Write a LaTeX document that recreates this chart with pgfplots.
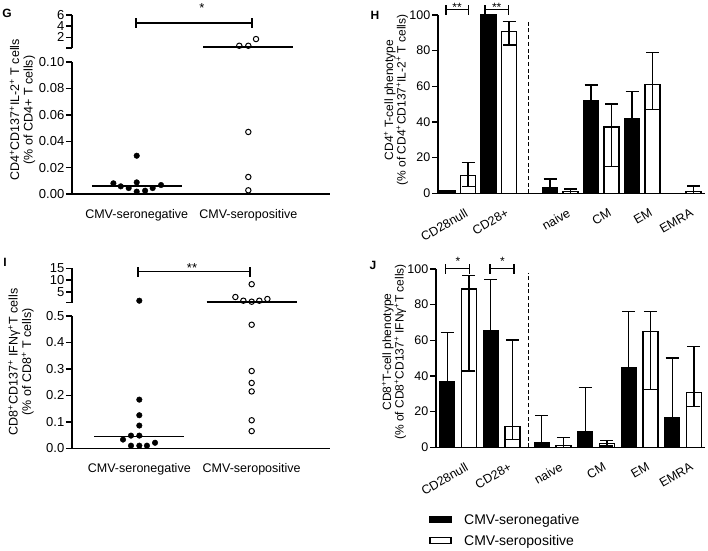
\documentclass[border=0pt]{standalone}
\usepackage{fontspec}
\setmainfont{Liberation Sans}
\usepackage{pgfplots}
\pgfplotsset{compat=1.18}
\pgfplotsset{
  panel/.style={scale only axis, anchor=south west, clip=false,
    axis line style={line width=1.4pt, black},
    tick style={black, line width=1.4pt},
    tick align=outside, major tick length=6pt,
    ticklabel style={font=\fontsize{13}{13}\selectfont},
    yticklabel style={inner sep=1.5pt},
  },
  negpts/.style={only marks, mark=*, mark size=2.8pt, black},
  pospts/.style={only marks, mark=o, mark size=2.7pt, mark options={line width=1pt}, black},
  medline/.style={line width=1.8pt, black},
  blackbar/.style={ybar, bar width=15pt, bar shift=0pt, fill=black, draw=black, line width=1.3pt,
    error bars/.cd, y dir=plus, y explicit,
    error bar style={line width=1.4pt, black, solid},
    error mark options={rotate=90, line width=1.4pt, mark size=6.5pt, black}},
  whitebar/.style={ybar, bar width=15pt, bar shift=0pt, fill=white, draw=black, line width=1.4pt,
    error bars/.cd, y dir=both, y explicit,
    error bar style={line width=1.4pt, black, solid},
    error mark options={rotate=90, line width=1.4pt, mark size=6.5pt, black}},
}
\begin{document}
\fontsize{12}{13}\selectfont
\begin{tikzpicture}
\useasboundingbox (0,0) rectangle (708pt,550pt);

% ================= Panel G =================
\begin{axis}[panel, at={(72pt,356pt)}, width=258pt, height=132pt,
  xmin=0.42, xmax=2.732, ymin=0, ymax=0.1,
  axis x line*=bottom, axis y line*=left,
  xtick={1,2}, xticklabels={CMV-seronegative,CMV-seropositive},
  xtick style={draw=none}, xticklabel style={yshift=-5pt, font=\fontsize{12.5}{13}\selectfont},
  ytick={0,0.02,0.04,0.06,0.08,0.1},
  yticklabels={0.00,0.02,0.04,0.06,0.08,0.10}]
\addplot[negpts] coordinates {(0.791,0.0081) (0.857,0.0058) (0.928,0.0045) (1,0.0088) (1,0.0018) (1.075,0.0025) (1.143,0.0045) (1.218,0.0068) (1,0.029)};
\addplot[pospts] coordinates {(2,0.047) (2,0.0129) (2,0.0028)};
\addplot[medline] coordinates {(0.597,0.0058) (1.403,0.0058)};
\end{axis}
\begin{axis}[panel, at={(72pt,502pt)}, width=258pt, height=33pt,
  xmin=0.42, xmax=2.732, ymin=0.1, ymax=6,
  axis y line*=left, axis x line=none, xtick=\empty,
  ytick={0.1,2,4,6}, yticklabels={,2,4,6}]
\addplot[pospts] coordinates {(1.919,0.5) (2,0.5) (2.069,1.7)};
\addplot[medline] coordinates {(1.597,0.22) (2.403,0.22)};
\end{axis}
\draw[line width=1.4pt] (136pt,522pt) -- (136pt,532pt) (136pt,527pt) -- (252pt,527pt) (252pt,522pt) -- (252pt,532pt);
\node[anchor=base, font=\fontsize{13}{13}\selectfont] at (202pt,537pt) {*};
\node[rotate=90, align=center, font=\fontsize{12.5}{13.5}\selectfont] at (22.5pt,440pt)
  {CD4\textsuperscript{+}CD137\textsuperscript{+}IL-2\textsuperscript{+} T cells\\(\% of CD4+ T cells)};
\node[font=\bfseries\fontsize{12}{12}\selectfont] at (7pt,537pt) {G};

% ================= Panel I =================
\begin{axis}[panel, at={(72pt,101.7pt)}, width=258pt, height=132.3pt,
  xmin=0.401, xmax=2.697, ymin=0, ymax=0.5,
  axis x line*=bottom, axis y line*=left,
  xtick={1,2}, xticklabels={CMV-seronegative,CMV-seropositive},
  xtick style={draw=none}, xticklabel style={yshift=-5pt, font=\fontsize{12.5}{13}\selectfont},
  ytick={0,0.1,0.2,0.3,0.4,0.5},
  yticklabels={0.0,0.1,0.2,0.3,0.4,0.5}]
\addplot[negpts] coordinates {(1,0.184) (1,0.125) (1,0.086) (0.926,0.048) (1,0.048) (0.855,0.033) (0.926,0.010) (1,0.010) (1.068,0.010) (1.140,0.021)};
\addplot[pospts] coordinates {(2,0.467) (2,0.292) (2,0.247) (2,0.215) (2,0.106) (2,0.065)};
\addplot[medline] coordinates {(0.6,0.045) (1.4,0.045)};
\end{axis}
\begin{axis}[panel, at={(72pt,247.3pt)}, width=258pt, height=34.4pt,
  xmin=0.401, xmax=2.697, ymin=0.5, ymax=15,
  axis y line*=left, axis x line=none, xtick=\empty,
  ytick={0.5,5,10,15}, yticklabels={,5,10,15}]
\addplot[negpts] coordinates {(1,1.34)};
\addplot[pospts] coordinates {(2,8.3) (1.855,2.9) (1.926,1.34) (2,0.92) (2.068,1.34) (2.140,2.06)};
\addplot[medline] coordinates {(1.6,0.69) (2.4,0.69)};
\end{axis}
\draw[line width=1.4pt] (138pt,273.3pt) -- (138pt,283.3pt) (138pt,278.3pt) -- (250pt,278.3pt) (250pt,273.3pt) -- (250pt,283.3pt);
\node[anchor=base, font=\fontsize{13}{13}\selectfont] at (192pt,277.3pt) {**};
\node[rotate=90, align=center, font=\fontsize{12.5}{13.5}\selectfont] at (21pt,188pt)
  {CD8\textsuperscript{+}CD137\textsuperscript{+} IFNγ\textsuperscript{+}T cells\\(\% of CD8\textsuperscript{+} T cells)};
\node[font=\bfseries\fontsize{12}{12}\selectfont] at (5pt,288pt) {I};

% ================= Panel H =================
\begin{axis}[panel, at={(438pt,356.7pt)}, width=267pt, height=178.3pt,
  xmin=-0.463, xmax=12.56, ymin=0, ymax=100,
  axis x line*=bottom, axis y line*=left,
  ticklabel style={font=\fontsize{12.5}{12.5}\selectfont},
  ytick={0,20,40,60,80,100}, yticklabels={0,20,40,60,80,100},
  xtick={0.5,2.5,5.5,7.5,9.5,11.5}, xticklabels={CD28null,CD28+,naive,CM,EM,EMRA},
  xtick style={draw=none},
  xticklabel style={xshift=8pt, yshift=-3pt, rotate=30, anchor=north east}]
\addplot[blackbar] coordinates {(0,1.3) +- (0,0.4) (2,100) +- (0,0) (5,3.3) +- (0,4.7) (7,52) +- (0,8.7) (9,41.7) +- (0,15.5)};
\addplot[whitebar] coordinates {(1,9.9) += (0,7.5) -= (0,6.2) (3,90.6) += (0,5.6) -= (0,7.4) (6,1.1) += (0,1.3) -= (0,1.1) (8,37.2) += (0,12.9) -= (0,22.3) (10,60.9) += (0,18.2) -= (0,14) (12,0.9) += (0,3.2) -= (0,0.9)};
\draw[line width=1.4pt, dash pattern=on 4pt off 2.7pt] (axis cs:3.94,0) -- (axis cs:3.94,97);
\end{axis}
\draw[line width=1.4pt] (446pt,535pt) -- (446pt,545pt) (446pt,540.7pt) -- (468.3pt,540.7pt) (468.3pt,535pt) -- (468.3pt,545pt);
\draw[line width=1.4pt] (485pt,535pt) -- (485pt,545pt) (485pt,540.7pt) -- (508.3pt,540.7pt) (508.3pt,535pt) -- (508.3pt,545pt);
\node[anchor=base, font=\fontsize{12}{12}\selectfont] at (457pt,538pt) {**};
\node[anchor=base, font=\fontsize{12}{12}\selectfont] at (496.7pt,538pt) {**};
\node[rotate=90, align=center, font=\fontsize{12}{12.5}\selectfont] at (396pt,450pt)
  {CD4\textsuperscript{+} T-cell phenotype\\(\% of CD4\textsuperscript{+}CD137\textsuperscript{+}IL-2\textsuperscript{+} T cells)};
\node[font=\bfseries\fontsize{12}{12}\selectfont] at (375pt,535pt) {H};

% ================= Panel J =================
\begin{axis}[panel, at={(436pt,102.7pt)}, width=269pt, height=178.3pt,
  xmin=-0.515, xmax=11.853, ymin=0, ymax=100,
  axis x line*=bottom, axis y line*=left,
  ticklabel style={font=\fontsize{12.5}{12.5}\selectfont},
  ytick={0,20,40,60,80,100}, yticklabels={0,20,40,60,80,100},
  xtick={0.5,2.5,4.845,6.845,8.845,10.845}, xticklabels={CD28null,CD28+,naive,CM,EM,EMRA},
  xtick style={draw=none},
  xticklabel style={xshift=8pt, yshift=-3pt, rotate=30, anchor=north east}]
\addplot[blackbar] coordinates {(0,36.8) +- (0,27.5) (2,65.4) +- (0,28.6) (4.345,2.8) +- (0,14.9) (6.345,8.6) +- (0,25) (8.345,44.7) +- (0,31.6) (10.345,16.6) +- (0,33.5)};
\addplot[whitebar] coordinates {(1,88.7) += (0,7.5) -= (0,45.9) (3,11.6) += (0,48.6) -= (0,7.1) (5.345,1.1) += (0,4.3) -= (0,1.1) (7.345,2.2) += (0,1.5) -= (0,1.5) (9.345,64.9) += (0,11.2) -= (0,32.4) (11.345,30.6) += (0,26) -= (0,7.8)};
\draw[line width=1.4pt, dash pattern=on 4pt off 2.7pt] (axis cs:3.73,0) -- (axis cs:3.73,98);
\end{axis}
\draw[line width=1.4pt] (445.7pt,276.5pt) -- (445.7pt,286.5pt) (445.7pt,281.5pt) -- (469.3pt,281.5pt) (469.3pt,276.5pt) -- (469.3pt,286.5pt);
\draw[line width=1.4pt] (490pt,276.5pt) -- (490pt,286.5pt) (490pt,281.5pt) -- (514pt,281.5pt) (514pt,276.5pt) -- (514pt,286.5pt);
\node[anchor=base, font=\fontsize{12}{12}\selectfont] at (458pt,284.5pt) {*};
\node[anchor=base, font=\fontsize{12}{12}\selectfont] at (502.5pt,284.5pt) {*};
\node[rotate=90, align=center, font=\fontsize{12}{12.5}\selectfont] at (394pt,198pt)
  {CD8\textsuperscript{+}T-cell phenotype\\(\% of CD8\textsuperscript{+}CD137\textsuperscript{+} IFNγ\textsuperscript{+}T cells)};
\node[font=\bfseries\fontsize{12}{12}\selectfont] at (373pt,285pt) {J};

% ================= Legend =================
\fill[black] (429.3pt,27.3pt) rectangle (451.7pt,34pt);
\draw[line width=1.4pt] (430pt,6.7pt) rectangle (451pt,12.6pt);
\node[anchor=base west, inner sep=0pt, font=\fontsize{14}{14}\selectfont] at (464pt,25.3pt) {CMV-seronegative};
\node[anchor=base west, inner sep=0pt, font=\fontsize{14}{14}\selectfont] at (464pt,4.5pt) {CMV-seropositive};
\end{tikzpicture}
\end{document}
